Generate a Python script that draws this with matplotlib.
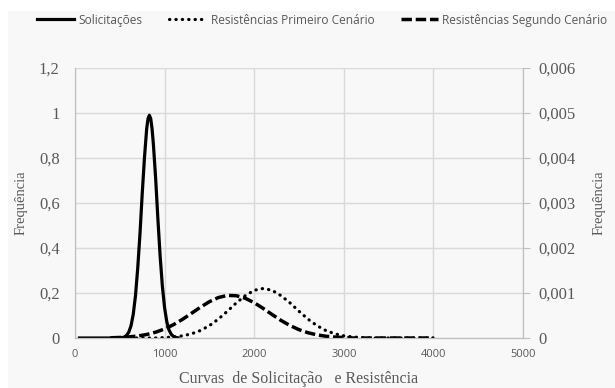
import matplotlib
matplotlib.use('Agg')
from matplotlib import pyplot as plt
from matplotlib.patches import Rectangle
from matplotlib.ticker import FuncFormatter

# Solicitações (eixo esquerdo)
x_sol = [50, 100, 200, 300, 400, 500, 525, 550, 575, 600, 625, 650, 675, 700, 725, 750,
         775, 800, 815, 830, 845, 860, 875, 900, 925, 950, 975, 1000, 1025, 1050, 1075,
         1100, 1125, 1150]
y_sol = [0, 0, 0, 0, 0, 0.0005, 0.0016, 0.0044, 0.011, 0.026, 0.054, 0.105, 0.188, 0.31,
         0.462, 0.64, 0.80, 0.93, 0.975, 0.99, 0.975, 0.93, 0.86, 0.71, 0.53, 0.365, 0.231,
         0.134, 0.071, 0.035, 0.016, 0.0065, 0.0024, 0.0008]

# Resistências (eixo direito)
x_res = [400, 500, 600, 700, 800, 900, 1000, 1100, 1200, 1300, 1400, 1500, 1600, 1700,
         1800, 1900, 2000, 2100, 2200, 2300, 2400, 2500, 2600, 2700, 2800, 2900, 3000,
         3100, 3200, 3300, 3400, 3500, 3600, 3700, 3800, 3900, 4000]
y_prim = [0, 0, 0, 0, 0, 0, 0.00001, 0.000023, 0.000048, 0.000093, 0.000166, 0.000275,
          0.00042, 0.000594, 0.00078, 0.00094, 0.00106, 0.0011, 0.00106, 0.00094, 0.00078,
          0.000594, 0.00042, 0.000275, 0.000166, 0.000093, 0.000048, 0.000023, 0.00001,
          0, 0, 0, 0, 0, 0, 0, 0]
y_seg = [0.000005, 0.000012, 0.000024, 0.000044, 0.000078, 0.000129, 0.0002, 0.000297,
         0.000415, 0.000549, 0.000684, 0.000807, 0.000899, 0.000946, 0.00094, 0.000883,
         0.000784, 0.000658, 0.000521, 0.00039, 0.000277, 0.000185, 0.000117, 0.00007,
         0.000039, 0.000021, 0.00001, 0, 0, 0, 0, 0, 0, 0, 0, 0, 0]

left_ticks = [0, 0.2, 0.4, 0.6, 0.8, 1, 1.2]
right_ticks = [0, 0.001, 0.002, 0.003, 0.004, 0.005, 0.006]
x_ticks = [0, 1000, 2000, 3000, 4000, 5000]

gray = '#595959'
grid = '#d9d9d9'

fig = plt.figure(figsize=(6.15, 3.88), dpi=100)
fig.patches.append(Rectangle((8 / 615, 0), 1, 1 - 11 / 388, transform=fig.transFigure,
                             facecolor='#f8f8f8', edgecolor='none', zorder=-10))
ax = fig.add_axes([75 / 615, 50 / 388, 448 / 615, 270 / 388])
ax.set_facecolor('none')
ax2 = ax.twinx()

l1, = ax.plot(x_sol, y_sol, color='black', lw=2.3, solid_joinstyle='round')
l2, = ax2.plot(x_res, y_prim, color='black', lw=2.3, linestyle=(0, (0.1, 1.9)),
               dash_capstyle='round')
l3, = ax2.plot(x_res, y_seg, color='black', lw=2.5, linestyle=(0, (3.0, 1.1)))

ax.set_xlim(0, 5000)
ax.set_ylim(0, 1.2)
ax2.set_ylim(0, 0.006)
ax.set_xticks(x_ticks)
ax.set_yticks(left_ticks)
ax2.set_yticks(right_ticks)

ax.yaxis.set_major_formatter(FuncFormatter(lambda v, p: ('%g' % v).replace('.', ',')))
ax2.yaxis.set_major_formatter(FuncFormatter(lambda v, p: '0' if v == 0 else ('%.3f' % v).replace('.', ',')))

ax.grid(True, color=grid, lw=1)
ax.set_axisbelow(True)
for a in (ax, ax2):
    for s in a.spines.values():
        s.set_color('#bfbfbf')
    a.spines['top'].set_visible(False)
ax.tick_params(axis='y', length=0, pad=11, labelsize=12, labelcolor=gray)
ax.tick_params(axis='x', length=0, pad=8, labelsize=8, labelcolor=gray)
ax2.tick_params(axis='y', length=5, color='#bfbfbf', pad=6, labelsize=12, labelcolor=gray)
for lab in ax.get_yticklabels() + ax2.get_yticklabels():
    lab.set_fontfamily('Liberation Serif')
for lab in ax.get_xticklabels():
    lab.set_fontfamily('Open Sans')

ax.set_ylabel('Frequência', fontsize=10.5, color=gray, family='Liberation Serif', labelpad=8)
ax2.set_ylabel('Frequência', fontsize=10.5, color=gray, family='Liberation Serif',
               rotation=90, labelpad=12)
ax.set_xlabel('Curvas  de Solicitação   e Resistência', fontsize=11.5, color=gray,
              family='Liberation Serif', labelpad=8)

fig.legend([l1, l2, l3], ['Solicitações', 'Resistências Primeiro Cenário',
                          'Resistências Segundo Cenário'],
           loc='center', bbox_to_anchor=(0.524, 0.948), ncol=3, frameon=False,
           prop={'family': 'Open Sans', 'size': 8.6}, handlelength=3.1,
           handletextpad=0.4, columnspacing=2.2, labelcolor=gray)

fig.savefig('out.png', dpi=100)
